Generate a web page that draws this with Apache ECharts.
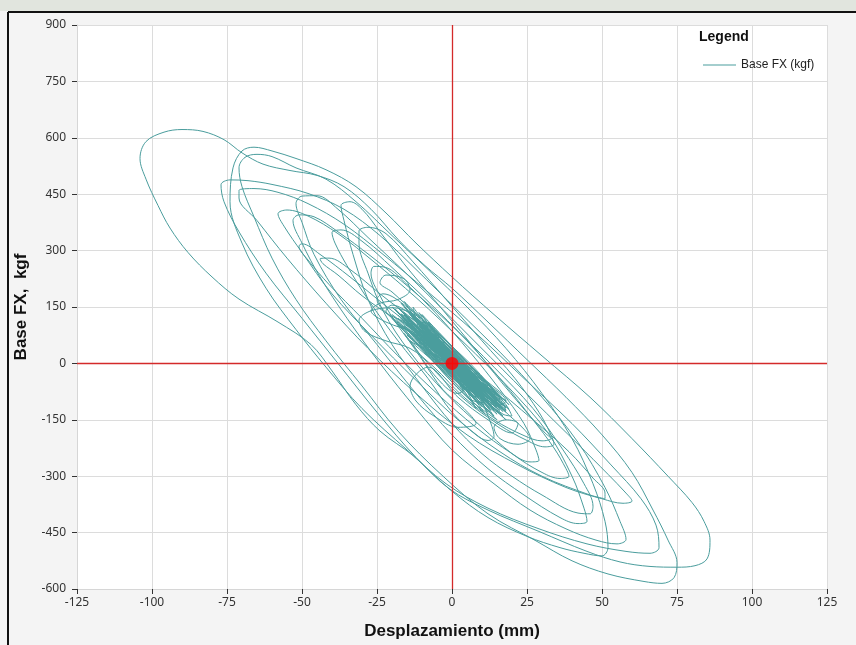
<!DOCTYPE html>
<html>
<head>
<meta charset="utf-8">
<script src="https://cdn.jsdelivr.net/npm/echarts@6/dist/echarts.min.js"></script>
<style>
html,body{margin:0;padding:0;background:#ffffff;}
#chart{width:856px;height:645px;}
</style>
</head>
<body>
<div id="chart"></div>
<script>
// ---- axis ticks ----
const xTicks = [-125,-100,-75,-50,-25,0,25,50,75,100,125];
const yTicks = [-600,-450,-300,-150,0,150,300,450,600,750,900];
const seriesName = 'Base FX (kgf)';
const xTitle = 'Desplazamiento (mm)';
const yTitle = 'Base FX,  kgf';

// ---- hysteresis trace (displacement mm, force kgf) ----
const core1 = [[0,0],[2,-20],[-1,10],[4,-35],[-3,28],[5,-45],[-5,42],[3,-22],[-7,60],[8,-65],[-6,48],[10,-80],[-9,75],[6,-50],[-12,98],[12,-95],[-8,70],[14,-108],[-14,118],[9,-75],[-16,135],[16,-118],[-10,88],[18,-125],[-18,148],[11,-90],[-13,105],[15,-100],[-6,62],[7,-40],[-15,120],[17,-112]];
const coreFuzz1 = [[-2,40],[3,-45],[-8,40],[6,-20],[-12,120],[9,-95],[-15,90],[13,-70],[-6,85],[10,-115],[-18,120],[16,-90],[-4,0],[-9,45],[-13,150],[14,-140],[-16,100],[7,-30],[-11,60],[18,-100],[-20,130],[12,-130],[-5,75],[4,5],[-14,85],[11,-50],[-17,160],[17,-140],[-7,20],[8,-100],[-10,130],[15,-80],[-19,110],[5,-70],[-3,-5],[10,-40],[-12,70],[13,-125],[-16,150],[19,-110],[-8,110],[6,-80],[-14,60],[12,-60]];
const wiggle1 = [[-5,60],[-12,130],[-20,190],[-24,215],[-22,235],[-16,225],[-14,195],[-18,170],[-24,160],[-27,140],[-22,110],[-12,80],[0,20],[10,-60],[18,-130],[24,-175],[26,-200],[22,-215],[16,-200],[14,-170],[18,-150],[22,-160],[20,-185],[12,-150],[2,-90],[-8,-10],[-14,-60],[-12,-100],[-6,-140],[2,-170],[8,-160],[4,-120],[-3,-70],[-10,10],[-16,80],[-13,50],[-6,-30],[2,-80],[6,-60],[10,-90]];
const cycleJ = [[8,-60],[-5,20],[-18,110],[-30,180],[-38,235],[-43,265],[-44,278],[-41,280],[-34,250],[-24,185],[-12,110],[0,20],[8,-70],[12,-140],[14,-195],[12,-205],[8,-190]];
const cycleK = [[0,-130],[-8,-40],[-18,60],[-28,170],[-35,260],[-39,320],[-40,348],[-37,355],[-30,325],[-20,255],[-8,165],[5,60],[17,-50],[27,-150],[34,-225],[38,-280],[39,-300],[36,-306],[30,-290]];
const cycleH = [[20,-240],[10,-170],[-2,-80],[-14,30],[-23,140],[-28,240],[-31,320],[-31,352],[-28,362],[-22,345],[-13,270],[-2,170],[10,60],[21,-40],[29,-130],[33,-190],[34,-215],[31,-222],[25,-205]];
const cycleM = [[16,-165],[4,-95],[-8,0],[-18,100],[-24,180],[-27,240],[-26,258],[-22,255],[-15,210],[-5,130],[6,30],[16,-70],[24,-160],[28,-230],[29,-258],[26,-262],[20,-240]];
const cycleI = [[8,-170],[-5,-80],[-18,20],[-30,120],[-41,210],[-48,275],[-51,312],[-50,318],[-44,290],[-34,230],[-20,140],[-5,50],[12,-50],[27,-150],[39,-235],[47,-305],[51,-345],[51,-360],[46,-350]];
const cycleL = [[30,-300],[16,-235],[2,-150],[-12,-45],[-27,75],[-40,185],[-50,295],[-56,365],[-58,398],[-55,408],[-48,392],[-38,345],[-26,270],[-12,175],[4,55],[19,-65],[32,-185],[40,-300],[44,-385],[45,-420],[42,-426],[36,-410]];
const cycleF = [[24,-350],[12,-280],[0,-190],[-12,-80],[-25,50],[-37,170],[-46,290],[-50,375],[-52,425],[-50,445],[-45,446],[-38,410],[-28,335],[-16,245],[-2,135],[13,15],[28,-105],[42,-215],[52,-295],[58,-345],[60,-366],[57,-372]];
const cycleE = [[50,-360],[38,-330],[22,-270],[5,-190],[-12,-80],[-28,40],[-42,160],[-55,280],[-65,380],[-71,440],[-71,460],[-66,465],[-58,455],[-48,425],[-36,370],[-23,290],[-8,190],[8,80],[24,-40],[40,-160],[53,-270],[63,-360],[68,-430],[69,-490],[66,-505],[58,-500]];
const cycleB = [[45,-480],[29,-440],[12,-385],[-2,-320],[-15,-230],[-30,-120],[-42,-10],[-52,90],[-62,200],[-70,320],[-74,430],[-73,520],[-70,565],[-66,575],[-60,565],[-52,545],[-42,515],[-32,470],[-22,400],[-12,320],[0,230],[14,130],[30,20],[46,-90],[60,-200],[72,-300],[80,-370],[84,-420],[86,-470],[85,-520],[81,-538],[75,-542]];
const cycleA = [[66,-540],[56,-528],[45,-500],[29,-447],[12,-390],[-1,-333],[-13,-245],[-24,-180],[-32,-110],[-40,-20],[-47,50],[-58,110],[-71,171],[-80,230],[-88,295],[-94,360],[-98,420],[-102,490],[-104,545],[-102,590],[-96,615],[-90,622],[-83,617],[-76,595],[-70,560],[-63,530],[-54,513],[-45,500],[-36,470],[-27,410],[-18,330],[-9,260],[0,200],[12,110],[25,10],[38,-90],[50,-190],[60,-290],[67,-390],[72,-470],[75,-530],[74,-570],[70,-585],[64,-580]];
const cycleC = [[52,-560],[40,-525],[28,-472],[12,-400],[-3,-300],[-18,-180],[-30,-60],[-42,60],[-52,170],[-60,280],[-66,390],[-70,470],[-71,520],[-69,548],[-65,556],[-60,550],[-52,520],[-42,490],[-32,430],[-20,340],[-8,250],[5,150],[18,40],[30,-80],[40,-200],[47,-320],[51,-420],[52,-490],[50,-512],[44,-505]];
const cycleD = [[36,-490],[25,-460],[12,-410],[0,-340],[-12,-250],[-25,-130],[-38,0],[-50,120],[-62,240],[-71,350],[-76,430],[-77,475],[-74,488],[-68,486],[-60,476],[-48,452],[-36,410],[-24,340],[-12,250],[2,140],[16,30],[30,-90],[42,-210],[51,-330],[56,-420],[58,-468],[55,-480],[48,-470]];
const cycleN = [[38,-440],[26,-390],[14,-320],[0,-230],[-12,-120],[-24,0],[-35,120],[-44,230],[-50,320],[-53,380],[-51,395],[-46,390],[-38,350],[-27,285],[-14,200],[0,100],[14,-10],[27,-120],[37,-230],[44,-320],[47,-380],[46,-400],[42,-398]];
const cycleG = [[30,-350],[20,-300],[10,-240],[0,-160],[-10,-60],[-20,50],[-28,170],[-33,290],[-36,380],[-37,420],[-34,430],[-30,410],[-24,350],[-16,265],[-6,170],[6,55],[17,-55],[26,-140],[31,-185],[33,-200],[30,-206],[24,-192]];
const loopCircle = [[14,-150],[4,-90],[-6,-10],[-14,40],[-22,60],[-29,85],[-31,115],[-27,140],[-20,148],[-13,132],[-8,105],[-2,60],[6,0],[13,-60],[18,-100],[15,-112]];
const coreDense = [[-3,30],[4,-20],[-6,55],[7,-50],[-2,35],[9,-75],[-10,80],[5,-55],[-11,100],[12,-85],[-7,72],[13,-100],[-15,110],[8,-70],[-17,140],[15,-115],[-9,95],[16,-105],[-13,125],[10,-95],[-19,145],[14,-120],[-12,90],[18,-118],[-8,85],[11,-65],[-16,118],[17,-128],[-4,50],[6,-35],[-14,130],[13,-92],[-11,78],[19,-122],[-6,70],[3,-15],[-10,100],[9,-60],[-18,128],[12,-108],[-5,40],[8,-85],[-15,140],[16,-98],[-7,50],[4,-45],[-12,112],[14,-126],[-9,65],[10,-70],[-13,95],[11,-100],[-8,92],[15,-92],[-16,128],[7,-78],[-4,38],[12,-80],[-11,115],[9,-90],[-14,102],[17,-120],[-17,132],[13,-112],[-6,58],[5,-30],[-9,88],[16,-110],[-12,120],[10,-88],[-20,150],[15,-108],[-3,22],[6,-62],[-13,110],[18,-130],[-10,72],[8,-52],[-15,125],[11,-104]];
const coreFuzz2 = [[6,-95],[-9,30],[4,-75],[-14,140],[10,-55],[-18,105],[15,-135],[-7,100],[3,-60],[-12,55],[17,-95],[-16,165],[8,-120],[-3,50],[14,-90],[-20,120],[11,-135],[-10,115],[7,-15],[-6,25],[16,-125],[-15,75],[2,-45],[-11,135],[13,-80],[-8,60],[9,-110],[-17,120],[18,-150],[-5,10]];
const core2 = [[15,-150],[5,-90],[-8,20],[-20,120],[-25,170],[-23,185],[-15,150],[-2,60],[10,-40],[18,-110],[20,-140],[17,-135],[8,-80],[-5,10],[-14,100],[-22,140],[-20,155],[-12,120],[0,40],[9,-30],[16,-95],[18,-125],[14,-110],[4,-50],[-6,30],[-14,100],[-17,130],[-13,118],[-4,60],[5,-10],[12,-70],[15,-105],[12,-100],[3,-40],[-7,40],[-12,90],[-10,95],[-3,50],[6,-25],[11,-75],[9,-70],[2,-20],[-5,35],[-9,70],[-7,65],[0,15],[5,-30],[8,-55],[6,-50],[0,-10],[-4,25],[-6,45],[-3,30],[2,-10],[4,-25],[2,-15],[-1,5],[0,0]];

const trace = [].concat(core1, coreFuzz1, wiggle1, cycleJ, cycleK, cycleH, cycleM, cycleI, cycleL, cycleF, cycleE, cycleB, cycleA, cycleC, cycleD, cycleN, cycleG, loopCircle, coreDense, coreFuzz2, core2);

const chart = echarts.init(document.getElementById('chart'), null, {renderer:'canvas'});
const labelFont = {fontFamily:'Noto Sans', fontSize:12, color:'#333'};
chart.setOption({
  animation:false,
  backgroundColor:'#f4f4f4',
  grid:{left:77, right:29, top:25, bottom:54, show:true, backgroundColor:'#ffffff', borderWidth:0},
  xAxis:{
    type:'value', min:xTicks[0], max:xTicks[xTicks.length-1], interval:25,
    name:xTitle, nameLocation:'middle', nameGap:34,
    nameTextStyle:{fontFamily:'Liberation Sans', fontWeight:'bold', fontSize:17, color:'#111'},
    axisLine:{onZero:false, lineStyle:{color:'#d6d6d6'}},
    axisTick:{show:true, length:5, lineStyle:{color:'#333'}},
    axisLabel:Object.assign({margin:8}, labelFont),
    splitLine:{lineStyle:{color:'#dcdcdc'}}
  },
  yAxis:{
    type:'value', min:yTicks[0], max:yTicks[yTicks.length-1], interval:150,
    name:yTitle, nameLocation:'middle', nameGap:47,
    nameTextStyle:{fontFamily:'Liberation Sans', fontWeight:'bold', fontSize:17, color:'#111'},
    axisLine:{show:true, onZero:false, lineStyle:{color:'#d6d6d6'}},
    axisTick:{show:true, length:5, lineStyle:{color:'#333'}},
    axisLabel:Object.assign({margin:11}, labelFont),
    splitLine:{lineStyle:{color:'#dcdcdc'}}
  },
  legend:{
    data:[seriesName], left:698, top:54, orient:'vertical',
    icon:'rect', itemWidth:33, itemHeight:1, itemGap:4,
    textStyle:{fontFamily:'Liberation Sans', fontSize:12, color:'#222'}
  },
  graphic:[
    {type:'rect', shape:{x:0,y:0,width:856,height:11}, style:{fill:'#e1e5de'}, silent:true},
    {type:'line', shape:{x1:8,y1:12,x2:856,y2:12}, style:{stroke:'#111', lineWidth:2}, silent:true},
    {type:'line', shape:{x1:8,y1:12,x2:8,y2:645}, style:{stroke:'#111', lineWidth:2}, silent:true},
    {type:'text', left:699, top:30, style:{text:'Legend', fontFamily:'Liberation Sans', fontWeight:'bold', fontSize:14, fill:'#111'}}
  ],
  series:[
    {
      name:seriesName, type:'line', data:trace, showSymbol:false, smooth:0.35,
      lineStyle:{color:'#4a9d9d', width:1}, itemStyle:{color:'#4a9d9d'},
      z:2,
      markLine:{
        silent:true, symbol:['none','none'], label:{show:false},
        lineStyle:{color:'#d42a2a', width:1.3, type:'solid'},
        data:[{xAxis:0},{yAxis:0}]
      }
    },
    {
      type:'scatter', data:[[0,0]], symbolSize:13, itemStyle:{color:'#ff0000'}, z:5, silent:true
    }
  ]
});
</script>
</body>
</html>
